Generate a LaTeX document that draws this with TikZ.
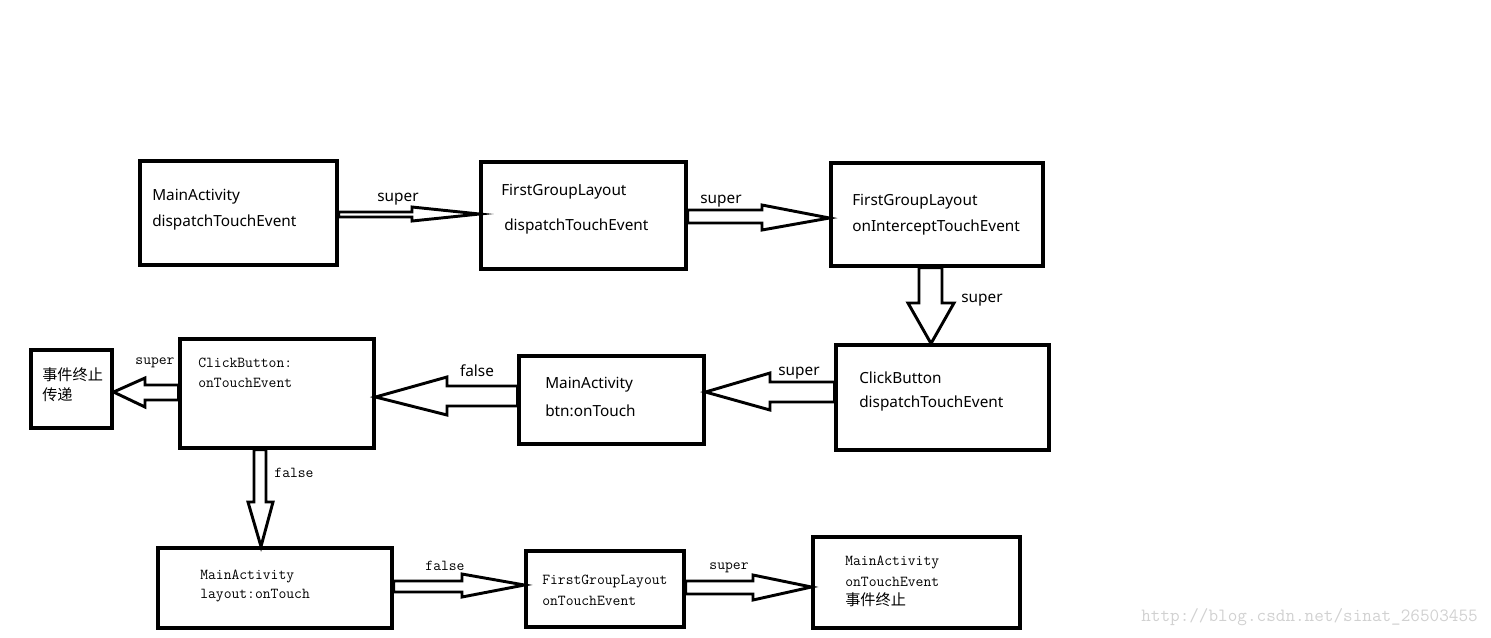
\documentclass[tikz,border=0pt]{standalone}
\usepackage{fontspec}
\setmainfont{Noto Sans}
\newfontfamily\cjk{Noto Sans CJK SC}
\begin{document}
\begin{tikzpicture}[x=0.75pt,y=-0.75pt,
  box/.style 2 args={draw,line width=2.3pt,inner sep=0pt,minimum width=#1*0.75pt,minimum height=#2*0.75pt},
  sans/.style={inner sep=0pt,anchor=west,yshift=-2.25pt,font=\fontsize{11.5}{13}\selectfont},
  mono/.style={inner sep=0pt,anchor=west,yshift=-0.75pt,font=\fontsize{11.4}{13}\ttfamily},
  cn/.style={inner sep=0pt,anchor=west,font=\fontsize{11.4}{13}\cjk},
  lbl/.style={inner sep=0pt,yshift=-2.25pt,font=\fontsize{11.5}{13}\selectfont},
  mlbl/.style={inner sep=0pt,yshift=-0.75pt,font=\fontsize{11.4}{13}\ttfamily},
  barrow/.style={draw,line width=2.2pt,line join=miter,fill=white}]
\useasboundingbox (0,0) rectangle (1491,637);
% boxes
\node[box={197}{104}] (b1) at (238.5,213) {};
\node[box={205}{107}] (b2) at (583.5,215.5) {};
\node[box={212}{103}] (b3) at (937,214.5) {};
\node[box={213}{105}] (b4) at (942.5,397.5) {};
\node[box={185}{88}] (b5) at (611.5,400) {};
\node[box={194}{109}] (b6) at (277,393.5) {};
\node[box={81}{78}] (b7) at (71.5,389) {};
\node[box={234}{80}] (b8) at (275,588) {};
\node[box={158}{76}] (b9) at (605,589) {};
\node[box={207}{91}] (b10) at (916.5,582.5) {};
% texts
\node[sans] (t1a) at (152,194) {MainActivity};
\node[sans] (t1b) at (152,220) {dispatchTouchEvent};
\node[sans] (t2a) at (501,189) {FirstGroupLayout};
\node[sans] (t2b) at (504,224) {dispatchTouchEvent};
\node[sans] (t3a) at (852,199) {FirstGroupLayout};
\node[sans] (t3b) at (852,225) {onInterceptTouchEvent};
\node[sans] (t4a) at (859,375) {ClickButton};
\node[sans] (t4b) at (859,401) {dispatchTouchEvent};
\node[sans] (t5a) at (545,382) {MainActivity};
\node[sans] (t5b) at (545,408) {btn:onTouch};
\node[mono] (t6a) at (198,362) {ClickButton:};
\node[mono] (t6b) at (198,382) {onTouchEvent};
\node[cn] (t7a) at (42,375) {事件终止};
\node[cn] (t7b) at (42,395) {传递};
\node[mono] (t8a) at (200,575) {MainActivity};
\node[mono] (t8b) at (200,595) {layout:onTouch};
\node[mono] (t9a) at (542,580) {FirstGroupLayout};
\node[mono] (t9b) at (542,600) {onTouchEvent};
\node[mono] (t10a) at (845,561) {MainActivity};
\node[mono] (t10b) at (845,581) {onTouchEvent};
\node[cn] (t10c) at (845,600) {事件终止};
% block arrows
\draw[barrow] (b1.east |- 0,212) -- (412,212) -- (412,207) -- (b2.west |- 0,214)
  -- (412,221) -- (412,217) -- (b1.east |- 0,217) -- cycle;
\draw[barrow] (b2.east |- 0,210) -- (762,210) -- (762,205) -- (b3.west |- 0,218)
  -- (762,230) -- (762,223) -- (b2.east |- 0,223) -- cycle;
\draw[barrow] (919,0 |- b3.south) -- (919,303) -- (908,303) -- (931,0 |- b4.north)
  -- (954,303) -- (942,303) -- (942,0 |- b3.south) -- cycle;
\draw[barrow] (b4.west |- 0,382) -- (770,382) -- (770,373) -- (b5.east |- 0,392)
  -- (770,410) -- (770,402) -- (b4.west |- 0,402) -- cycle;
\draw[barrow] (b5.west |- 0,386) -- (447,386) -- (447,377) -- (b6.east |- 0,397)
  -- (447,415) -- (447,406) -- (b5.west |- 0,406) -- cycle;
\draw[barrow] (b6.west |- 0,385) -- (145,385) -- (145,378) -- (b7.east |- 0,392)
  -- (145,407) -- (145,400) -- (b6.west |- 0,400) -- cycle;
\draw[barrow] (254,0 |- b6.south) -- (254,502) -- (248,502) -- (261,0 |- b8.north)
  -- (273,502) -- (266,502) -- (266,0 |- b6.south) -- cycle;
\draw[barrow] (b8.east |- 0,581) -- (462,581) -- (462,574) -- (b9.west |- 0,585)
  -- (462,597) -- (462,592) -- (b8.east |- 0,592) -- cycle;
\draw[barrow] (b9.east |- 0,581) -- (753,581) -- (753,575) -- (b10.west |- 0,587)
  -- (753,600) -- (753,594) -- (b9.east |- 0,594) -- cycle;
% labels
\node[lbl] (l1) at (398,196) {super};
\node[lbl] (l2) at (721,198) {super};
\node[lbl] (l3) at (982,297) {super};
\node[lbl] (l4) at (799,370) {super};
\node[lbl] (l5) at (477,368) {false};
\node[mlbl] (l6) at (155,362) {super};
\node[mlbl] (l7) at (294,472) {false};
\node[mlbl] (l8) at (445,565) {false};
\node[mlbl] (l9) at (729,567) {super};
% watermark
\node[inner sep=0pt,anchor=east,text=black!18,font=\fontsize{14}{16}\ttfamily] (wm) at (1478,617) {http://blog.csdn.net/sinat\_26503455};
\end{tikzpicture}
\end{document}
